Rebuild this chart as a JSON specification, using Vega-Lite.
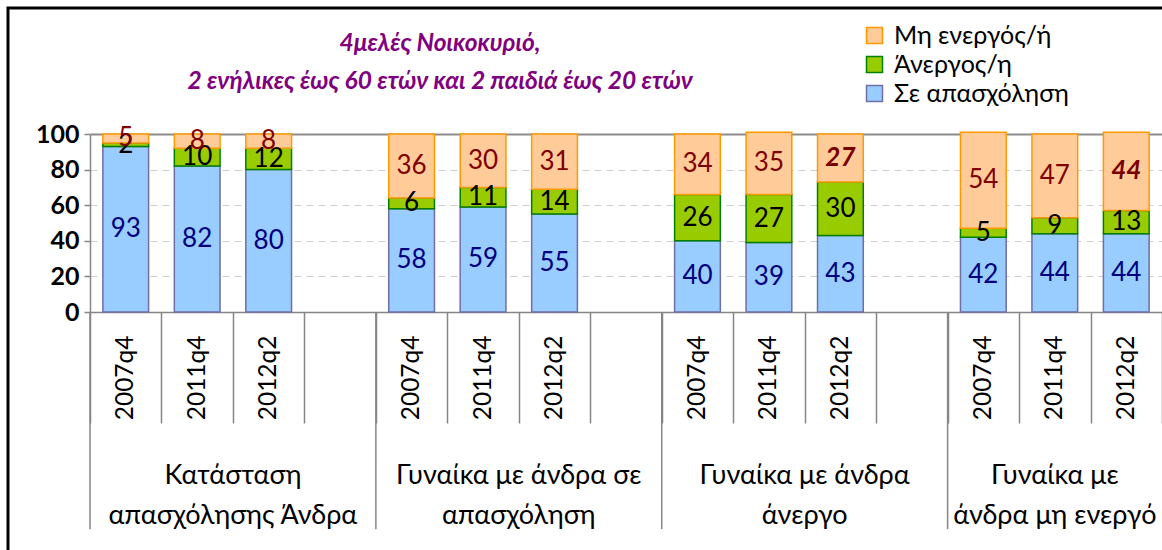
{
  "$schema": "https://vega.github.io/schema/vega-lite/v6.json",
  "width": 1154,
  "height": 542,
  "autosize": {"type": "none"},
  "padding": {"left": 8, "top": 8, "right": 0, "bottom": 0},
  "background": "white",
  "config": {
    "view": {"stroke": "#000000", "strokeWidth": 3, "strokeDash": [1154, 1696, 542]},
    "font": "Lato"
  },
  "title": {
    "text": ["4μελές Νοικοκυριό,", "2 ενήλικες έως 60 ετών και 2 παιδιά έως 20 ετών"],
    "font": "Lato",
    "fontSize": 24.5,
    "fontStyle": "italic",
    "fontWeight": "bold",
    "color": "#800080",
    "anchor": "middle",
    "frame": "group",
    "dx": -145,
    "offset": -86,
    "lineHeight": 38
  },
  "datasets": {
    "bars": [
      {"group": "A", "period": "2007q4", "slot": "A-2007q4", "status": "Σε απασχόληση", "value": 93},
      {"group": "A", "period": "2007q4", "slot": "A-2007q4", "status": "Άνεργος/η", "value": 2},
      {"group": "A", "period": "2007q4", "slot": "A-2007q4", "status": "Μη ενεργός/ή", "value": 5},
      {"group": "A", "period": "2011q4", "slot": "A-2011q4", "status": "Σε απασχόληση", "value": 82},
      {"group": "A", "period": "2011q4", "slot": "A-2011q4", "status": "Άνεργος/η", "value": 10},
      {"group": "A", "period": "2011q4", "slot": "A-2011q4", "status": "Μη ενεργός/ή", "value": 8},
      {"group": "A", "period": "2012q2", "slot": "A-2012q2", "status": "Σε απασχόληση", "value": 80},
      {"group": "A", "period": "2012q2", "slot": "A-2012q2", "status": "Άνεργος/η", "value": 12},
      {"group": "A", "period": "2012q2", "slot": "A-2012q2", "status": "Μη ενεργός/ή", "value": 8},
      {"group": "B", "period": "2007q4", "slot": "B-2007q4", "status": "Σε απασχόληση", "value": 58},
      {"group": "B", "period": "2007q4", "slot": "B-2007q4", "status": "Άνεργος/η", "value": 6},
      {"group": "B", "period": "2007q4", "slot": "B-2007q4", "status": "Μη ενεργός/ή", "value": 36},
      {"group": "B", "period": "2011q4", "slot": "B-2011q4", "status": "Σε απασχόληση", "value": 59},
      {"group": "B", "period": "2011q4", "slot": "B-2011q4", "status": "Άνεργος/η", "value": 11},
      {"group": "B", "period": "2011q4", "slot": "B-2011q4", "status": "Μη ενεργός/ή", "value": 30},
      {"group": "B", "period": "2012q2", "slot": "B-2012q2", "status": "Σε απασχόληση", "value": 55},
      {"group": "B", "period": "2012q2", "slot": "B-2012q2", "status": "Άνεργος/η", "value": 14},
      {"group": "B", "period": "2012q2", "slot": "B-2012q2", "status": "Μη ενεργός/ή", "value": 31},
      {"group": "C", "period": "2007q4", "slot": "C-2007q4", "status": "Σε απασχόληση", "value": 40},
      {"group": "C", "period": "2007q4", "slot": "C-2007q4", "status": "Άνεργος/η", "value": 26},
      {"group": "C", "period": "2007q4", "slot": "C-2007q4", "status": "Μη ενεργός/ή", "value": 34},
      {"group": "C", "period": "2011q4", "slot": "C-2011q4", "status": "Σε απασχόληση", "value": 39},
      {"group": "C", "period": "2011q4", "slot": "C-2011q4", "status": "Άνεργος/η", "value": 27},
      {"group": "C", "period": "2011q4", "slot": "C-2011q4", "status": "Μη ενεργός/ή", "value": 35},
      {"group": "C", "period": "2012q2", "slot": "C-2012q2", "status": "Σε απασχόληση", "value": 43},
      {"group": "C", "period": "2012q2", "slot": "C-2012q2", "status": "Άνεργος/η", "value": 30},
      {"group": "C", "period": "2012q2", "slot": "C-2012q2", "status": "Μη ενεργός/ή", "value": 27},
      {"group": "D", "period": "2007q4", "slot": "D-2007q4", "status": "Σε απασχόληση", "value": 42},
      {"group": "D", "period": "2007q4", "slot": "D-2007q4", "status": "Άνεργος/η", "value": 5},
      {"group": "D", "period": "2007q4", "slot": "D-2007q4", "status": "Μη ενεργός/ή", "value": 54},
      {"group": "D", "period": "2011q4", "slot": "D-2011q4", "status": "Σε απασχόληση", "value": 44},
      {"group": "D", "period": "2011q4", "slot": "D-2011q4", "status": "Άνεργος/η", "value": 9},
      {"group": "D", "period": "2011q4", "slot": "D-2011q4", "status": "Μη ενεργός/ή", "value": 47},
      {"group": "D", "period": "2012q2", "slot": "D-2012q2", "status": "Σε απασχόληση", "value": 44},
      {"group": "D", "period": "2012q2", "slot": "D-2012q2", "status": "Άνεργος/η", "value": 13},
      {"group": "D", "period": "2012q2", "slot": "D-2012q2", "status": "Μη ενεργός/ή", "value": 44}
    ],
    "groups": [
      {"group": "A", "slot": "A-2007q4", "labelslot": "A-2012q2", "label": ["Κατάσταση", "απασχόλησης Άνδρα"]},
      {"group": "B", "slot": "B-2007q4", "labelslot": "B-2012q2", "label": ["Γυναίκα με άνδρα σε", "απασχόληση"]},
      {"group": "C", "slot": "C-2007q4", "labelslot": "C-2012q2", "label": ["Γυναίκα με άνδρα", "άνεργο"]},
      {"group": "D", "slot": "D-2007q4", "labelslot": "D-2011q4", "label": ["Γυναίκα με", "άνδρα μη ενεργό"]}
    ]
  },
  "layer": [
    {
      "data": {"name": "bars"},
      "transform": [
        {"calculate": "indexof(['Σε απασχόληση','Άνεργος/η','Μη ενεργός/ή'], datum.status)", "as": "k"},
        {"stack": "value", "groupby": ["slot"], "sort": [{"field": "k", "order": "ascending"}], "as": ["y0", "y1"]},
        {"calculate": "(datum.y0 + datum.y1) / 2", "as": "ymid"}
      ],
      "layer": [
        {
          "mark": {"type": "bar", "width": {"band": 0.64}, "strokeWidth": 1.5},
          "encoding": {
            "x": {
              "field": "slot", "type": "nominal", "title": null,
              "scale": {"domain": ["A-2007q4","A-2011q4","A-2012q2","A-","B-2007q4","B-2011q4","B-2012q2","B-","C-2007q4","C-2011q4","C-2012q2","C-","D-2007q4","D-2011q4","D-2012q2"], "range": [82, 1154], "paddingInner": 0, "paddingOuter": 0},
              "axis": {
                "title": null, "offset": -238, "grid": false,
                "domainColor": "#868686", "domainWidth": 1.5,
                "tickBand": "extent", "tickSize": 111, "tickColor": "#868686", "tickWidth": 1.5,
                "labelAngle": -90, "labelFont": "Lato", "labelFontSize": 24.5, "labelColor": "#000000",
                "labelPadding": -88, "labelOverlap": false, "labelBound": false,
                "labelExpr": "split(datum.value, '-')[1]"
              }
            },
            "y": {
              "field": "y0", "type": "quantitative", "title": null,
              "scale": {"domain": [0, 100], "range": [304, 126], "nice": false, "zero": false},
              "axis": {
                "title": null, "offset": -82, "values": [0, 20, 40, 60, 80, 100],
                "domainColor": "#868686", "domainWidth": 1.5,
                "tickColor": "#868686", "tickSize": 6, "tickWidth": 1.5,
                "labelFont": "Lato", "labelFontWeight": "bold", "labelFontSize": 25, "labelColor": "#000000", "labelPadding": 5,
                "grid": true,
                "gridColor": {"condition": {"test": "datum.value == 100", "value": "#8c8c8c"}, "value": "#cfcfcf"},
                "gridDash": {"condition": {"test": "datum.value == 100", "value": []}, "value": [7, 5]},
                "gridWidth": {"condition": {"test": "datum.value == 100", "value": 2}, "value": 1}
              }
            },
            "y2": {"field": "y1"},
            "fill": {
              "field": "status", "type": "nominal",
              "scale": {"domain": ["Μη ενεργός/ή", "Άνεργος/η", "Σε απασχόληση"], "range": ["#FFCC99", "#99CC00", "#99CCFF"]},
              "legend": {"orient": "none", "legendX": 854, "legendY": 15, "title": null, "symbolType": "square", "symbolSize": 256, "symbolStrokeWidth": 1.5, "labelFont": "Lato", "labelFontSize": 25, "labelColor": "#000000", "labelLimit": 400, "rowPadding": 3, "labelOffset": 7, "padding": 0}
            },
            "stroke": {
              "field": "status", "type": "nominal",
              "scale": {"domain": ["Μη ενεργός/ή", "Άνεργος/η", "Σε απασχόληση"], "range": ["#FF9900", "#008000", "#6F6FA6"]},
              "legend": {"orient": "none", "legendX": 854, "legendY": 15, "title": null, "symbolType": "square", "symbolSize": 256, "symbolStrokeWidth": 1.5, "labelFont": "Lato", "labelFontSize": 25, "labelColor": "#000000", "labelLimit": 400, "rowPadding": 3, "labelOffset": 7, "padding": 0}
            }
          }
        },
        {
          "transform": [{"filter": "!(datum.status == 'Μη ενεργός/ή' && (datum.slot == 'C-2012q2' || datum.slot == 'D-2012q2'))"}],
          "mark": {"type": "text", "font": "Lato", "fontSize": 26, "baseline": "middle", "align": "center"},
          "encoding": {
            "x": {"field": "slot", "type": "nominal", "title": null},
            "y": {"field": "ymid", "type": "quantitative", "title": null},
            "text": {"field": "value", "type": "quantitative"},
            "color": {
              "condition": [
                {"test": "datum.status == 'Σε απασχόληση'", "value": "#000080"},
                {"test": "datum.status == 'Μη ενεργός/ή'", "value": "#800000"}
              ],
              "value": "#000000"
            }
          }
        },
        {
          "transform": [{"filter": "datum.status == 'Μη ενεργός/ή' && (datum.slot == 'C-2012q2' || datum.slot == 'D-2012q2')"}],
          "mark": {"type": "text", "font": "Lato", "fontSize": 26, "fontWeight": "bold", "fontStyle": "italic", "baseline": "middle", "align": "center", "color": "#7a0000"},
          "encoding": {
            "x": {"field": "slot", "type": "nominal", "title": null},
            "y": {"field": "ymid", "type": "quantitative", "title": null},
            "text": {"field": "value", "type": "quantitative"}
          }
        }
      ]
    },
    {
      "data": {"name": "groups"},
      "transform": [
        {"calculate": "0", "as": "sepTop"},
        {"calculate": "-122", "as": "sepBottom"}
      ],
      "mark": {"type": "rule", "color": "#868686", "strokeWidth": 1.5},
      "encoding": {
        "x": {"field": "slot", "type": "nominal", "bandPosition": 0, "title": null},
        "y": {"field": "sepTop", "type": "quantitative", "title": null},
        "y2": {"field": "sepBottom"}
      }
    },
    {
      "data": {"name": "groups"},
      "transform": [{"filter": "datum.group != 'D'"}],
      "mark": {"type": "text", "font": "Lato", "fontSize": 27, "baseline": "middle", "align": "center", "lineHeight": 40, "color": "#000000"},
      "encoding": {
        "x": {"field": "labelslot", "type": "nominal", "bandPosition": 0, "title": null},
        "y": {"datum": -92, "type": "quantitative"},
        "text": {"field": "label"}
      }
    },
    {
      "data": {"name": "groups"},
      "transform": [{"filter": "datum.group == 'D'"}],
      "mark": {"type": "text", "font": "Lato", "fontSize": 27, "baseline": "middle", "align": "center", "lineHeight": 40, "color": "#000000"},
      "encoding": {
        "x": {"field": "labelslot", "type": "nominal", "bandPosition": 0.5, "title": null},
        "y": {"datum": -92, "type": "quantitative"},
        "text": {"field": "label"}
      }
    }
  ]
}
